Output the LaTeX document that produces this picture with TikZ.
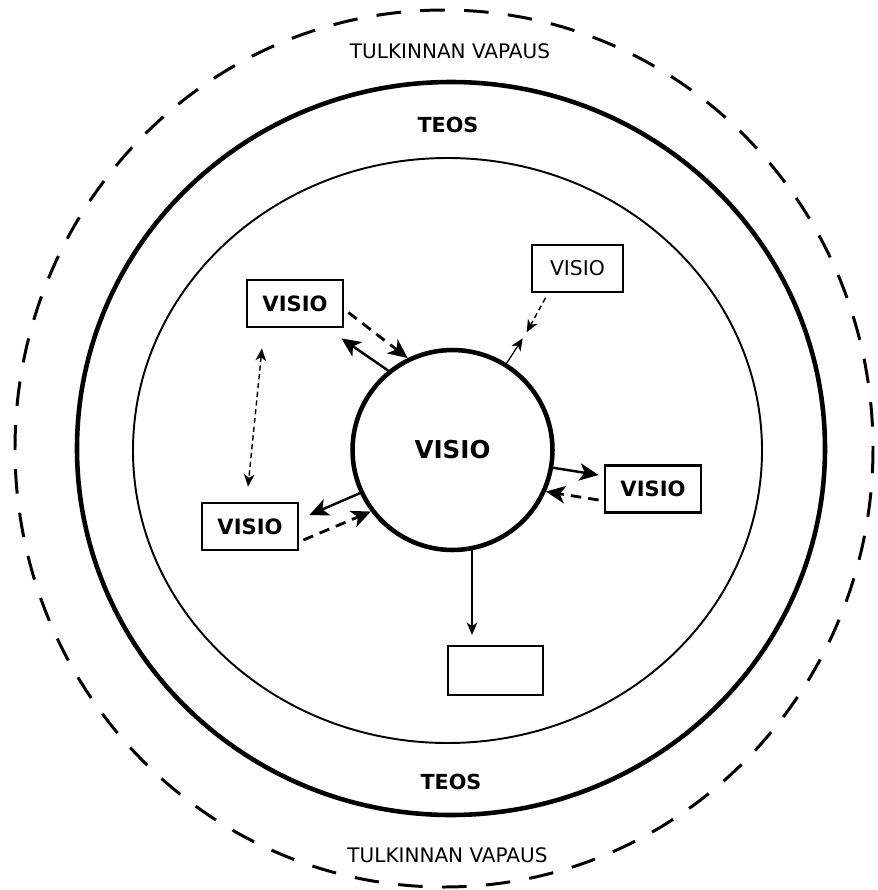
\documentclass[tikz,border=0pt]{standalone}
\usepackage{fontspec}
\setmainfont{DejaVu Sans}
\usetikzlibrary{arrows.meta,calc}

\begin{document}
\begin{tikzpicture}[x=0.02cm,y=-0.02cm,
  freering/.style={line width=1.7pt,dash pattern=on 14pt off 11pt},
  workring/.style={line width=2.6pt},
  innerring/.style={line width=1.1pt},
  lab/.style={inner sep=0pt,font=\fontsize{11.4}{13}\selectfont},
  blab/.style={inner sep=0pt,font=\bfseries\fontsize{11.8}{13}\selectfont},
  vcircle/.style={draw,circle,line width=2.6pt,minimum size=4cm,inner sep=0pt,
                  font=\bfseries\fontsize{14}{16}\selectfont},
  vbox/.style={draw,line width=1.6pt,minimum width=1.92cm,minimum height=0.94cm,
               inner sep=0pt,font=\bfseries\fontsize{12}{14}\selectfont},
  vthin/.style={draw,line width=1pt,minimum width=1.82cm,minimum height=0.94cm,
                inner sep=0pt,font=\fontsize{11.6}{14}\selectfont},
  sarr/.style={-{Stealth[length=11pt,width=10pt,inset=3pt]},line width=1.4pt},
  darr/.style={-{Stealth[length=11pt,width=10pt,inset=3pt]},line width=1.6pt,
               dash pattern=on 6pt off 4pt},
  tarr/.style={-{Stealth[length=7pt,width=6pt,inset=2pt]},line width=0.7pt},
  farr/.style={{Stealth[length=7pt,width=6pt,inset=2pt]}-{Stealth[length=7pt,width=6pt,inset=2pt]},
               line width=0.8pt,dash pattern=on 3pt off 2pt}]
  \useasboundingbox (0,0) rectangle (877,890);
  % ---- rings
  \draw[freering]  (444,448.5) ellipse [x radius=429, y radius=438.5];
  \draw[workring]  (451,448.5) ellipse [x radius=374, y radius=366.5];
  \draw[innerring] (447.5,450.5) ellipse [x radius=314.5, y radius=292.5];
  % ---- ring labels
  \node[lab]  (free1) at (450,51.5)  {TULKINNAN VAPAUS};
  \node[blab] (work1) at (448,124.5) {TEOS};
  \node[blab] (work2) at (451,781.5) {TEOS};
  \node[lab]  (free2) at (447.5,855.5) {TULKINNAN VAPAUS};
  % ---- visions
  \node[vcircle] (core) at (452.5,450) {VISIO};
  \node[vbox]  (v1) at (295,303.5) {VISIO};
  \node[vthin] (v2) at (577.5,268.5) {VISIO};
  \node[vbox]  (v3) at (653,489) {VISIO};
  \node[vbox]  (v4) at (250,526.5) {VISIO};
  \node[vbox,line width=1.3pt,minimum width=1.9cm,minimum height=0.98cm] (blank) at (495.5,670.5) {};
  % ---- arrows
  \draw[sarr] (core.129) -- ($(v1.south east)+(-3,10)$);
  \draw[darr] ($(v1.east)+(4,9)$) -- (core.116);
  \draw[tarr] (core.58) -- ($(core.58)+(16,-25)$);
  \draw[tarr,line width=0.8pt,dash pattern=on 3pt off 2pt] ($(v2.south)+(-32,5)$) -- ($(core.58)+(20,-31)$);
  \draw[sarr] (core.-10) -- ($(v3.west)+(-5,-14)$);
  \draw[darr] ($(v3.west)+(-5,11)$) -- (core.-24);
  \draw[sarr] (core.205) -- ($(v4.east)+(10,-11.5)$);
  \draw[darr] ($(v4.east)+(4,13.5)$) -- (core.217);
  \draw[farr] ($(v1.south)+(-33,20)$) -- ($(v4.north)+(-2,-15)$);
  \draw[tarr,line width=0.8pt] (core.-79) -- ($(core.-79 |- blank.north)+(0,-10)$);
\end{tikzpicture}
\end{document}
